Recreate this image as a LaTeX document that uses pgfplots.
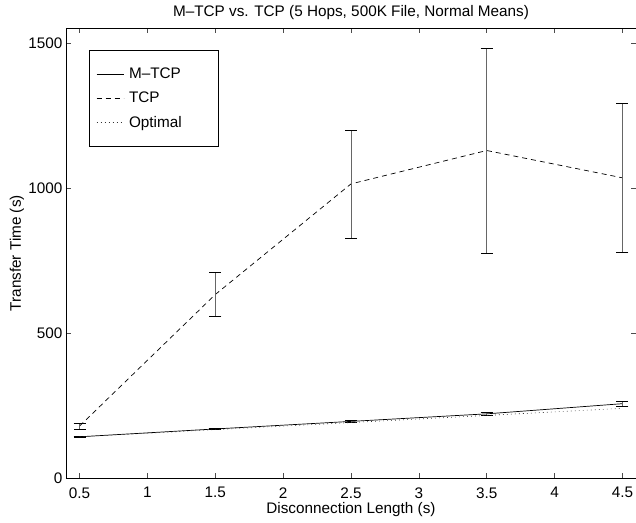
\documentclass[border=0pt]{standalone}
\usepackage{pgfplots}
\pgfplotsset{compat=1.18}
\usepackage{fontspec}
\setmainfont{Liberation Sans}
\begin{document}
\begin{tikzpicture}
\begin{axis}[
  name=ax,
  scale only axis,
  width=570pt, height=450pt,
  xmin=0.4, xmax=4.6, ymin=0, ymax=1550,
  xtick={0.5,1,1.5,2,2.5,3,3.5,4,4.5},
  xticklabels={0.5,1,1.5,2,2.5,3,3.5,4,4.5},
  ytick={0,500,1000,1500},
  yticklabels={0,500,1000,1500},
  tick align=inside,
  major tick length=5pt,
  axis line style={line width=0.7pt},
  tick style={line width=0.6pt, black!70},
  font=\fontsize{15.3}{18}\selectfont,
  ticklabel style={font=\fontsize{15.3}{18}\selectfont},
  xticklabel style={yshift=-5.5pt},
  yticklabel style={xshift=0pt},
  title={M\textendash TCP vs. TCP (5 Hops, 500K File, Normal Means)},
  title style={at={(axis description cs:0.5,1)}, anchor=center, yshift=9.5pt, font=\fontsize{15.3}{18}\selectfont},
  xlabel={Disconnection Length (s)},
  ylabel={Transfer Time (s)},
  every axis x label/.style={at={(axis description cs:0.5,0)}, anchor=center, yshift=-31.5pt, font=\fontsize{15.3}{18}\selectfont},
  every axis y label/.style={at={(axis description cs:0,0.5)}, anchor=center, xshift=-49pt, rotate=90, font=\fontsize{15.3}{18}\selectfont},
  legend cell align=left,
  legend image code/.code={\draw[#1] (0cm,0cm) -- (27pt,0cm);},
  legend style={at={(0.0404,0.9518)}, anchor=north west, draw=black, line width=0.7pt,
    inner xsep=7pt, inner ysep=15.5pt, row sep=8pt, column sep=3pt,
    font=\fontsize{15.3}{18}\selectfont},
]
\addplot[black, line width=0.7pt, solid,
  error bars/.cd, y dir=both, y explicit,
  error bar style={solid, line width=0.9pt, black!60},
  error mark options={rotate=90, mark size=6pt, black, line width=0.8pt}]
  coordinates {
  (0.5,143) +- (0,3)
  (1.5,170) +- (0,3)
  (2.5,196) +- (0,3)
  (3.5,222) +- (0,4)
  (4.5,257) +- (0,8)
};
\addlegendentry{M\textendash TCP}
\addplot[black, line width=0.7pt, dash pattern=on 5pt off 4pt,
  error bars/.cd, y dir=both, y explicit,
  error bar style={solid, line width=0.9pt, black!60},
  error mark options={rotate=90, mark size=6pt, black, line width=0.8pt, solid}]
  coordinates {
  (0.5,180) +- (0,10)
  (1.5,633) +- (0,77)
  (2.5,1014) +- (0,186)
  (3.5,1129) +- (0,353)
  (4.5,1035) +- (0,256)
};
\addlegendentry{TCP}
\addplot[black!80, line width=0.6pt, dash pattern=on 0.8pt off 3.2pt]
  coordinates {
  (0.5,143)
  (1.5,167.5)
  (2.5,192)
  (3.5,216.5)
  (4.5,241)
};
\addlegendentry{\makebox[80pt][l]{Optimal}}
\end{axis}
\pgfresetboundingbox
\path ([xshift=-66pt,yshift=-44.7pt]ax.south west) rectangle ([yshift=28.3pt]ax.north east);
\end{tikzpicture}
\end{document}
